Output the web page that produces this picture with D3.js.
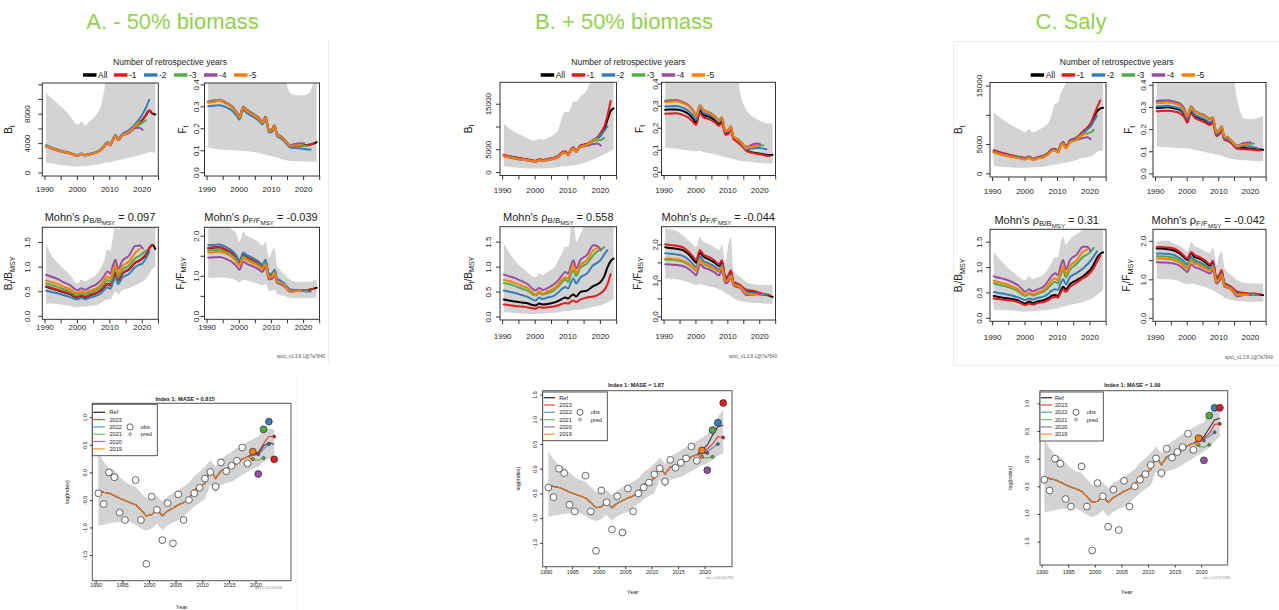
<!DOCTYPE html>
<html><head><meta charset="utf-8">
<script src="https://cdn.jsdelivr.net/npm/d3@7/dist/d3.min.js"></script>
<style>
html,body{margin:0;padding:0;background:#fff;}
svg{display:block;}
</style></head>
<body>
<svg id="chart" width="1279" height="610" xmlns="http://www.w3.org/2000/svg"></svg>
<script>
// ======================= DATA =======================
// Retrospective panels: common time grid
const retroGrid = [1990.5,1992,1994,1996,1998,1999.3,2000.2,2001.4,2002.5,2004,2006,2007.4,2008.3,2009.4,2010.3,2011.1,2011.9,2012.7,2014,2016,2018,2019.3,2020.3,2021.3,2022.3,2023.3,2024.2];
const retroNames = ["All","-1","-2","-3","-4","-5"];
const retroColors = ["#000000","#E41A1C","#377EB8","#4DAF4A","#984EA3","#FF7F00"];
const retroXTicks = [1990,1995,2000,2005,2010,2015,2020,2025];
const retroXLabels = [1990,2000,2010,2020];
const headers = ["A. - 50% biomass","B. + 50% biomass","C. Saly"];
const mohnB = ["0.097","0.558","0.31"];
const mohnF = ["-0.039","-0.044","-0.042"];
const maseValues = ["0.815","1.87","1.09"];

// ---- Column A: B_t
const A_Bt_All=[3600,3350,3050,2800,2600,2400,2300,2550,2350,2500,2750,3100,3500,4050,3750,4400,5000,4450,5100,5500,6300,6800,7200,7800,8400,8000,7900];
const A_Bt_M1=[3620,3370,3070,2820,2620,2420,2320,2570,2370,2520,2770,3120,3520,4080,3780,4430,5030,4480,5130,5530,6350,6850,7250,7850,8450,8050];
const A_Bt_M2=[3720,3460,3150,2880,2670,2450,2350,2600,2400,2560,2820,3180,3600,4150,3850,4500,5150,4600,5250,5750,6600,7300,8000,8800,9900];
const A_Bt_M3=[3560,3310,3010,2770,2580,2380,2280,2530,2330,2480,2730,3080,3480,4020,3720,4370,4970,4420,5060,5450,6100,6500,6800,7100];
const A_Bt_M4=[3520,3280,2990,2750,2560,2360,2260,2510,2310,2460,2710,3050,3450,3990,3690,4330,4920,4380,5000,5350,6050,6100,5800];
const A_Bt_M5=[3580,3330,3040,2790,2600,2390,2290,2540,2340,2490,2740,3090,3490,4040,3740,4390,4990,4440,5080,5480,6350,6900];
const A_Bt_Up=[10800,10200,9400,8600,7600,6800,6500,6900,6400,7000,7900,9000,10800,14000,16000,18000,20000,20000,20000,20000,20000,20000,20000,20000,20000,20000,20000];
const A_Bt_Lo=[1350,1250,1100,1000,900,820,800,870,850,950,1080,1200,1300,1400,1400,1500,1650,1650,1800,2000,2200,2350,2500,2600,2750,2750,2550];
// ---- Column A: F_t
const A_F_All=[0.318,0.322,0.326,0.315,0.296,0.272,0.252,0.296,0.282,0.268,0.248,0.228,0.25,0.19,0.192,0.212,0.172,0.165,0.15,0.12,0.12,0.122,0.124,0.124,0.126,0.13,0.137];
const A_F_M1=[0.319,0.323,0.327,0.316,0.297,0.273,0.253,0.297,0.283,0.269,0.249,0.229,0.251,0.191,0.193,0.213,0.173,0.166,0.151,0.121,0.121,0.122,0.122,0.122,0.125,0.132];
const A_F_M2=[0.300,0.302,0.305,0.296,0.279,0.258,0.240,0.282,0.269,0.256,0.237,0.218,0.240,0.181,0.183,0.203,0.164,0.157,0.143,0.113,0.110,0.108,0.106,0.104,0.103];
const A_F_M3=[0.322,0.326,0.330,0.318,0.299,0.275,0.255,0.299,0.285,0.271,0.251,0.231,0.253,0.193,0.195,0.215,0.175,0.168,0.152,0.122,0.122,0.123,0.122,0.121];
const A_F_M4=[0.320,0.324,0.328,0.316,0.297,0.273,0.253,0.297,0.283,0.269,0.249,0.229,0.251,0.191,0.193,0.213,0.173,0.166,0.151,0.124,0.130,0.132,0.132];
const A_F_M5=[0.316,0.320,0.325,0.313,0.294,0.270,0.250,0.294,0.280,0.266,0.246,0.226,0.248,0.188,0.190,0.210,0.170,0.164,0.149,0.121,0.122,0.124];
const A_F_Up=[0.5,0.5,0.5,0.5,0.5,0.5,0.5,0.5,0.5,0.5,0.5,0.5,0.5,0.5,0.5,0.5,0.5,0.5,0.45,0.36,0.35,0.35,0.35,0.355,0.37,0.41,0.46];
const A_F_Lo=[0.111,0.108,0.104,0.101,0.1,0.099,0.098,0.098,0.096,0.093,0.088,0.083,0.08,0.075,0.073,0.07,0.066,0.063,0.057,0.051,0.05,0.05,0.049,0.049,0.048,0.048,0.048];
// ---- Column A: B_t/B_MSY
const A_BB_All=[0.59,0.56,0.52,0.48,0.44,0.39,0.375,0.41,0.38,0.42,0.46,0.52,0.58,0.65,0.62,0.75,0.87,0.72,0.86,0.94,1.08,1.12,1.17,1.24,1.37,1.44,1.36];
const A_BB_M1=[0.60,0.57,0.53,0.49,0.45,0.40,0.385,0.42,0.39,0.43,0.47,0.53,0.59,0.66,0.63,0.76,0.88,0.73,0.87,0.95,1.09,1.13,1.18,1.25,1.38,1.45];
const A_BB_M2=[0.51,0.49,0.46,0.42,0.38,0.345,0.335,0.37,0.34,0.37,0.41,0.46,0.52,0.58,0.55,0.67,0.78,0.65,0.78,0.85,0.99,1.04,1.07,1.17,1.30];
const A_BB_M3=[0.66,0.63,0.59,0.54,0.49,0.44,0.42,0.46,0.43,0.47,0.52,0.58,0.65,0.73,0.69,0.84,0.96,0.80,0.94,1.02,1.17,1.22,1.27,1.33];
const A_BB_M4=[0.83,0.80,0.75,0.68,0.62,0.55,0.52,0.56,0.53,0.58,0.64,0.72,0.80,0.90,0.86,1.02,1.14,0.95,1.12,1.22,1.42,1.43,1.37];
const A_BB_M5=[0.72,0.69,0.65,0.59,0.54,0.48,0.46,0.50,0.47,0.51,0.56,0.63,0.71,0.80,0.76,0.92,1.03,0.86,1.01,1.10,1.28,1.36];
const A_BB_Up=[1.46,1.25,1.08,0.95,0.82,0.70,0.66,0.74,0.70,0.76,0.84,0.98,1.10,1.35,1.32,1.60,1.85,1.75,1.90,2.0,2.0,2.0,2.0,2.0,2.0,2.0,2.0];
const A_BB_Lo=[0.25,0.25,0.24,0.22,0.2,0.18,0.17,0.19,0.18,0.2,0.22,0.26,0.3,0.34,0.33,0.42,0.5,0.44,0.52,0.56,0.62,0.66,0.7,0.76,0.85,0.95,1.0];
// ---- Column A: F_t/F_MSY
const A_FF_All=[1.69,1.70,1.71,1.65,1.56,1.44,1.32,1.52,1.46,1.40,1.32,1.23,1.35,1.01,1.01,1.11,0.90,0.86,0.80,0.64,0.63,0.63,0.63,0.64,0.66,0.68,0.70];
const A_FF_M1=[1.70,1.71,1.72,1.66,1.57,1.45,1.33,1.53,1.47,1.41,1.33,1.24,1.36,1.02,1.02,1.12,0.91,0.87,0.80,0.64,0.63,0.63,0.63,0.64,0.66,0.68];
const A_FF_M2=[1.77,1.77,1.78,1.72,1.62,1.50,1.38,1.58,1.52,1.46,1.37,1.28,1.40,1.05,1.05,1.15,0.93,0.89,0.82,0.66,0.64,0.63,0.62,0.61,0.61];
const A_FF_M3=[1.63,1.64,1.65,1.59,1.50,1.39,1.28,1.48,1.42,1.36,1.28,1.20,1.32,0.98,0.99,1.09,0.88,0.85,0.79,0.62,0.62,0.63,0.63,0.63];
const A_FF_M4=[1.45,1.46,1.47,1.42,1.34,1.24,1.15,1.35,1.30,1.25,1.17,1.10,1.22,0.91,0.92,1.02,0.82,0.80,0.75,0.60,0.63,0.64,0.64];
const A_FF_M5=[1.58,1.59,1.60,1.55,1.46,1.35,1.25,1.44,1.39,1.33,1.25,1.17,1.29,0.96,0.97,1.07,0.86,0.83,0.78,0.61,0.62,0.63];
const A_FF_Up=[2.15,2.25,2.3,2.25,2.15,2.05,1.85,2.1,2.0,1.95,1.85,1.75,1.85,1.45,1.6,1.7,1.25,1.15,1.05,0.9,0.85,0.85,0.85,0.85,0.86,0.88,0.9];
const A_FF_Lo=[0.95,0.95,0.96,0.95,0.92,0.88,0.83,0.9,0.88,0.85,0.8,0.76,0.8,0.62,0.62,0.66,0.55,0.52,0.5,0.45,0.44,0.44,0.44,0.44,0.44,0.45,0.46];

// ---- Column B: B_t
const B_Bt_All=[3700,3450,3150,2900,2700,2500,2400,2750,2600,2800,3100,3600,4250,4480,3900,4900,5370,4650,5750,6100,6870,7450,8100,9300,11400,13400,13950];
const B_Bt_M1=[3800,3550,3250,3000,2780,2580,2480,2820,2680,2880,3180,3680,4330,4560,3980,4980,5450,4730,5830,6200,7000,7700,8700,9900,12300,15600];
const B_Bt_M2=[3600,3350,3050,2820,2620,2430,2330,2670,2530,2720,3020,3500,4150,4380,3800,4800,5250,4550,5620,6000,7100,7600,8200,9000,10000];
const B_Bt_M3=[3500,3270,2980,2760,2560,2380,2280,2610,2470,2660,2960,3420,4050,4280,3720,4700,5150,4450,5500,5900,6850,6950,7050,7500];
const B_Bt_M4=[3450,3220,2940,2720,2530,2350,2250,2580,2440,2630,2920,3380,4000,4220,3680,4620,5050,4380,5400,5750,6150,6250,5800];
const B_Bt_M5=[3520,3290,3000,2770,2580,2400,2300,2630,2490,2680,2980,3450,4080,4300,3750,4730,5180,4480,5550,5950,7000,7250];
const B_Bt_Up=[10600,9700,8800,8000,7300,6900,6900,7300,7100,7500,8300,9500,12000,13200,13200,14200,15500,15500,16500,18000,21000,21000,21000,21000,21000,21000,21000];
const B_Bt_Lo=[1270,1150,1000,900,800,760,740,800,790,850,950,1100,1200,1270,1270,1400,1550,1550,1800,2200,2760,3200,3500,3900,4250,4650,5000];
// ---- Column B: F_t
const B_F_All=[0.281,0.282,0.283,0.276,0.26,0.24,0.222,0.278,0.258,0.251,0.235,0.217,0.229,0.174,0.178,0.194,0.153,0.145,0.128,0.098,0.087,0.084,0.082,0.08,0.077,0.076,0.077];
const B_F_M1=[0.263,0.264,0.265,0.258,0.243,0.225,0.212,0.266,0.247,0.24,0.225,0.209,0.221,0.168,0.172,0.188,0.148,0.14,0.124,0.095,0.085,0.082,0.079,0.076,0.073,0.072];
const B_F_M2=[0.296,0.297,0.298,0.29,0.274,0.254,0.238,0.287,0.268,0.26,0.244,0.225,0.237,0.18,0.184,0.2,0.158,0.15,0.133,0.103,0.106,0.108,0.108,0.105,0.102];
const B_F_M3=[0.322,0.324,0.326,0.317,0.3,0.278,0.255,0.302,0.282,0.272,0.255,0.235,0.247,0.186,0.19,0.206,0.161,0.153,0.14,0.11,0.116,0.118,0.118,0.12];
const B_F_M4=[0.32,0.322,0.324,0.315,0.298,0.276,0.254,0.3,0.281,0.271,0.254,0.234,0.246,0.185,0.189,0.205,0.16,0.152,0.139,0.112,0.125,0.128,0.125];
const B_F_M5=[0.316,0.318,0.32,0.312,0.295,0.273,0.253,0.299,0.28,0.27,0.252,0.232,0.245,0.184,0.188,0.204,0.159,0.151,0.138,0.108,0.113,0.116];
const B_F_Up=[0.5,0.5,0.5,0.5,0.5,0.5,0.5,0.5,0.5,0.5,0.5,0.5,0.5,0.5,0.5,0.5,0.5,0.5,0.36,0.28,0.25,0.24,0.23,0.225,0.22,0.22,0.22];
const B_F_Lo=[0.11,0.107,0.104,0.1,0.097,0.095,0.093,0.095,0.09,0.085,0.08,0.074,0.072,0.066,0.064,0.062,0.058,0.055,0.05,0.046,0.043,0.041,0.04,0.039,0.038,0.037,0.037];
// ---- Column B: B_t/B_MSY
const B_BB_All=[0.34,0.32,0.3,0.28,0.26,0.23,0.22,0.26,0.24,0.25,0.28,0.32,0.35,0.38,0.36,0.41,0.44,0.40,0.49,0.52,0.61,0.65,0.70,0.80,0.98,1.11,1.16];
const B_BB_M1=[0.24,0.23,0.21,0.2,0.18,0.165,0.155,0.19,0.175,0.185,0.2,0.23,0.25,0.27,0.26,0.3,0.32,0.29,0.34,0.38,0.4,0.43,0.47,0.53,0.64,0.85];
const B_BB_M2=[0.52,0.5,0.47,0.43,0.39,0.34,0.32,0.38,0.35,0.38,0.42,0.49,0.55,0.59,0.56,0.68,0.76,0.66,0.78,0.86,1.03,1.08,1.14,1.24,1.33];
const B_BB_M3=[0.67,0.65,0.61,0.56,0.51,0.45,0.42,0.47,0.44,0.47,0.53,0.61,0.68,0.74,0.69,0.84,0.93,0.81,0.98,1.06,1.23,1.31,1.34,1.39];
const B_BB_M4=[0.84,0.81,0.77,0.71,0.64,0.56,0.52,0.57,0.53,0.57,0.65,0.74,0.82,0.89,0.86,1.02,1.13,0.96,1.13,1.23,1.43,1.41,1.33];
const B_BB_M5=[0.73,0.71,0.67,0.62,0.56,0.48,0.44,0.5,0.46,0.5,0.57,0.66,0.74,0.78,0.76,0.93,1.03,0.87,1.03,1.13,1.33,1.37];
const B_BB_Up=[1.47,1.3,1.12,0.98,0.87,0.8,0.78,0.86,0.83,0.9,0.98,1.15,1.26,1.4,1.4,1.75,1.95,1.5,1.65,1.95,2.0,2.0,2.0,2.0,2.0,2.0,2.0];
const B_BB_Lo=[0.09,0.08,0.07,0.06,0.055,0.05,0.05,0.06,0.06,0.065,0.075,0.09,0.1,0.11,0.11,0.12,0.13,0.13,0.14,0.16,0.19,0.21,0.22,0.25,0.28,0.32,0.36];
// ---- Column B: F_t/F_MSY
const B_FF_All=[1.92,1.9,1.88,1.84,1.71,1.58,1.49,1.77,1.66,1.59,1.49,1.40,1.52,1.05,1.12,1.24,0.93,0.91,0.85,0.73,0.68,0.66,0.63,0.61,0.59,0.57,0.54];
const B_FF_M1=[2.0,1.98,1.96,1.92,1.78,1.65,1.56,1.84,1.72,1.66,1.55,1.45,1.56,1.08,1.15,1.28,0.96,0.93,0.87,0.74,0.71,0.68,0.65,0.63,0.61,0.59];
const B_FF_M2=[1.75,1.74,1.72,1.68,1.56,1.44,1.36,1.66,1.54,1.48,1.38,1.30,1.42,1.0,1.06,1.17,0.9,0.88,0.83,0.68,0.65,0.63,0.61,0.6,0.6];
const B_FF_M3=[1.57,1.57,1.56,1.52,1.42,1.33,1.27,1.56,1.45,1.40,1.31,1.24,1.36,0.96,1.01,1.12,0.88,0.85,0.81,0.62,0.61,0.62,0.61,0.61];
const B_FF_M4=[1.45,1.44,1.43,1.40,1.31,1.21,1.14,1.45,1.36,1.31,1.22,1.14,1.28,0.91,0.96,1.08,0.86,0.82,0.79,0.59,0.61,0.62,0.62];
const B_FF_M5=[1.61,1.6,1.59,1.55,1.45,1.35,1.28,1.57,1.46,1.41,1.32,1.25,1.37,0.97,1.02,1.13,0.89,0.86,0.82,0.63,0.61,0.61];
const B_FF_Up=[2.45,2.42,2.38,2.25,2.1,1.98,1.93,2.21,2.07,2.02,1.92,1.84,1.98,1.47,2.0,2.2,1.28,1.18,1.1,0.95,0.9,0.88,0.87,0.87,0.87,0.87,0.87];
const B_FF_Lo=[1.05,1.04,1.03,1.0,0.94,0.9,0.87,0.9,0.87,0.84,0.8,0.74,0.72,0.65,0.6,0.56,0.5,0.47,0.43,0.4,0.38,0.37,0.37,0.36,0.36,0.35,0.35];

// ---- Column C: B_t
const C_Bt_All=[3800,3550,3250,3000,2800,2650,2590,2820,2450,2700,3000,3500,4020,4140,3740,4800,5290,4500,5570,6030,7010,7700,8300,9500,10600,11050,11200];
const C_Bt_M1=[3950,3700,3380,3100,2880,2720,2650,2880,2500,2750,3060,3560,4080,4200,3800,4860,5350,4560,5640,6100,7200,7800,8500,9800,11200,12450];
const C_Bt_M2=[3750,3500,3200,2960,2760,2610,2550,2780,2410,2660,2950,3450,3960,4080,3690,4740,5220,4440,5500,5950,6900,7500,8000,8900,9900];
const C_Bt_M3=[3650,3400,3120,2880,2690,2540,2480,2710,2350,2600,2880,3380,3880,4000,3620,4660,5130,4360,5400,5830,6700,6850,6950,7450];
const C_Bt_M4=[3600,3360,3080,2840,2650,2500,2440,2670,2310,2560,2840,3330,3830,3940,3570,4600,5060,4300,5320,5700,6050,6150,5850];
const C_Bt_M5=[3560,3320,3040,2800,2620,2420,2330,2640,2280,2530,2820,3300,3800,3920,3550,4580,5040,4280,5300,5700,6600,6750];
const C_Bt_Up=[10460,9700,8900,8200,7600,7250,7010,7590,7010,7300,8000,8700,9900,11900,12000,13600,14600,15200,17000,17000,17000,17000,17000,17000,17000,17000,17000];
const C_Bt_Lo=[1260,1180,1080,1020,980,960,950,1000,1000,1080,1150,1300,1400,1500,1550,1650,1750,1800,2000,2300,2650,2800,2900,3200,3600,3800,3970];
// ---- Column C: F_t
const C_F_All=[0.295,0.296,0.298,0.294,0.285,0.265,0.241,0.28,0.261,0.25,0.238,0.226,0.236,0.174,0.182,0.2,0.156,0.153,0.142,0.115,0.115,0.113,0.112,0.111,0.109,0.108,0.107];
const C_F_M1=[0.28,0.282,0.283,0.279,0.27,0.252,0.229,0.27,0.251,0.24,0.228,0.218,0.229,0.168,0.176,0.194,0.151,0.148,0.137,0.111,0.109,0.108,0.108,0.106,0.105,0.104];
const C_F_M2=[0.302,0.303,0.305,0.3,0.291,0.27,0.246,0.285,0.266,0.255,0.243,0.23,0.24,0.177,0.185,0.203,0.158,0.155,0.144,0.118,0.124,0.124,0.122,0.118,0.115];
const C_F_M3=[0.328,0.329,0.33,0.325,0.315,0.292,0.262,0.303,0.284,0.272,0.26,0.247,0.253,0.188,0.196,0.214,0.166,0.166,0.151,0.126,0.131,0.134,0.134,0.135];
const C_F_M4=[0.326,0.327,0.328,0.323,0.313,0.29,0.26,0.301,0.282,0.27,0.258,0.245,0.252,0.187,0.195,0.213,0.165,0.165,0.15,0.125,0.137,0.139,0.139];
const C_F_M5=[0.317,0.318,0.32,0.315,0.306,0.283,0.258,0.299,0.28,0.268,0.256,0.244,0.251,0.185,0.194,0.212,0.164,0.164,0.149,0.124,0.13,0.131];
const C_F_Up=[0.5,0.5,0.5,0.5,0.5,0.5,0.5,0.5,0.5,0.5,0.5,0.5,0.5,0.5,0.5,0.5,0.5,0.5,0.5,0.33,0.25,0.245,0.244,0.246,0.25,0.255,0.258];
const C_F_Lo=[0.12,0.119,0.118,0.116,0.114,0.113,0.112,0.11,0.106,0.102,0.096,0.091,0.088,0.085,0.083,0.079,0.075,0.072,0.066,0.062,0.059,0.058,0.057,0.056,0.055,0.055,0.054];
// ---- Column C: B_t/B_MSY
const C_BB_All=[0.43,0.41,0.39,0.37,0.34,0.3,0.28,0.32,0.29,0.32,0.35,0.39,0.43,0.45,0.43,0.53,0.61,0.56,0.66,0.74,0.82,0.89,0.95,1.05,1.18,1.26,1.29];
const C_BB_M1=[0.38,0.37,0.35,0.34,0.31,0.27,0.25,0.28,0.26,0.29,0.31,0.35,0.39,0.41,0.40,0.49,0.56,0.51,0.61,0.69,0.78,0.83,0.89,0.98,1.1,1.22];
const C_BB_M2=[0.51,0.49,0.47,0.44,0.4,0.37,0.35,0.38,0.36,0.39,0.42,0.48,0.53,0.56,0.55,0.68,0.76,0.66,0.80,0.88,0.97,1.05,1.12,1.21,1.31];
const C_BB_M3=[0.68,0.65,0.62,0.58,0.52,0.46,0.43,0.47,0.44,0.47,0.52,0.6,0.66,0.71,0.68,0.84,0.94,0.80,0.95,1.06,1.20,1.25,1.30,1.38];
const C_BB_M4=[0.82,0.79,0.76,0.71,0.64,0.56,0.51,0.56,0.52,0.56,0.62,0.74,0.82,0.88,0.84,1.02,1.14,0.95,1.14,1.24,1.40,1.40,1.32];
const C_BB_M5=[0.73,0.7,0.67,0.62,0.56,0.49,0.45,0.49,0.46,0.5,0.55,0.66,0.73,0.78,0.74,0.91,1.02,0.86,1.02,1.13,1.30,1.35];
const C_BB_Up=[1.3,1.18,1.04,0.92,0.82,0.76,0.74,0.82,0.76,0.8,0.86,0.98,1.08,1.2,1.2,1.47,1.6,1.45,1.55,1.65,1.75,1.9,1.9,1.9,1.9,1.9,1.9];
const C_BB_Lo=[0.16,0.155,0.15,0.145,0.135,0.125,0.12,0.13,0.13,0.14,0.15,0.16,0.17,0.18,0.18,0.2,0.22,0.23,0.25,0.28,0.31,0.34,0.36,0.4,0.45,0.5,0.55];
// ---- Column C: F_t/F_MSY
const C_FF_All=[1.8,1.8,1.78,1.75,1.66,1.56,1.5,1.67,1.58,1.54,1.44,1.36,1.45,1.02,1.09,1.19,0.89,0.86,0.79,0.66,0.63,0.62,0.61,0.61,0.61,0.6,0.59];
const C_FF_M1=[1.84,1.84,1.83,1.8,1.7,1.6,1.54,1.71,1.63,1.58,1.48,1.39,1.48,1.05,1.12,1.24,0.91,0.87,0.81,0.68,0.65,0.64,0.63,0.63,0.62,0.61];
const C_FF_M2=[1.67,1.67,1.66,1.63,1.54,1.45,1.39,1.58,1.5,1.45,1.36,1.29,1.38,0.98,1.04,1.15,0.86,0.83,0.77,0.63,0.62,0.61,0.61,0.6,0.6];
const C_FF_M3=[1.6,1.6,1.59,1.56,1.48,1.38,1.32,1.52,1.45,1.4,1.31,1.25,1.34,0.96,1.02,1.13,0.85,0.82,0.76,0.61,0.6,0.6,0.6,0.6];
const C_FF_M4=[1.45,1.44,1.43,1.41,1.34,1.25,1.19,1.39,1.32,1.28,1.2,1.15,1.24,0.89,0.95,1.05,0.81,0.79,0.74,0.56,0.59,0.6,0.6];
const C_FF_M5=[1.54,1.54,1.53,1.5,1.42,1.33,1.28,1.48,1.41,1.36,1.28,1.22,1.31,0.94,1.0,1.11,0.84,0.81,0.75,0.59,0.59,0.6];
const C_FF_Up=[1.97,2.0,2.0,1.93,1.85,1.78,1.71,1.97,1.86,1.82,1.72,1.69,1.84,1.37,1.63,1.71,1.32,1.2,1.12,0.98,0.91,0.9,0.89,0.89,0.89,0.89,0.89];
const C_FF_Lo=[1.02,1.01,1.0,0.99,0.94,0.9,0.87,0.89,0.87,0.84,0.8,0.74,0.72,0.66,0.62,0.58,0.53,0.5,0.47,0.44,0.43,0.42,0.42,0.42,0.42,0.42,0.42];

// ---- Hindcast (index 1) panels
const hcT=[1990.5,1991.5,1992.5,1993.5,1994.5,1995.5,1996.5,1997.5,1998.5,1999.5,2000.5,2001.5,2002.5,2003.5,2004.5,2005.5,2006.5,2007.5,2008.5,2009.5,2010.5,2011.5,2012.5,2013.5,2014.5,2015.5,2016.5,2017.5,2018.5,2019.5,2020.5,2021.5,2022.5,2023.5];
const obsT=[1990.5,1991.5,1992.5,1993.5,1994.5,1995.5,1997.5,1998.5,1999.5,2000.5,2001.5,2002.5,2003.5,2004.5,2005.5,2006.5,2007.5,2008.5,2009.5,2010.5,2011.5,2012.5,2013.5,2014.5,2015.5,2016.5,2017.5,2018.5];
const obsV=[-0.38,-0.575,0.0,-0.09,-0.73,-0.865,-0.14,-0.865,-1.66,-0.44,-0.68,-1.23,-0.56,-1.29,-0.40,-0.865,-0.50,-0.38,-0.28,-0.115,0.006,-0.26,0.18,0.02,0.12,0.21,0.45,0.16];
const peelT=[2019.5,2020.5,2021.5,2022.5,2023.5];
const peelNames=["2019","2020","2021","2022","2023"];
const peelColors=["#FF7F00","#984EA3","#4DAF4A","#377EB8","#E41A1C"];
const refEarly=[-0.33,-0.36,-0.38,-0.42,-0.47,-0.51,-0.55,-0.59,-0.68,-0.79,-0.77,-0.67,-0.79,-0.70,-0.65,-0.59,-0.55,-0.47,-0.32,-0.26,-0.20,0.05,-0.11,0.03,0.07,0.10,0.16,0.24,0.28];
const bandUpEarly=[0.345,0.19,0.07,0.04,-0.08,-0.17,-0.23,-0.26,-0.37,-0.47,-0.50,-0.43,-0.53,-0.44,-0.38,-0.32,-0.26,-0.19,-0.07,0.01,0.10,0.22,0.10,0.24,0.31,0.375,0.44,0.50,0.56];
const bandLoEarly=[-0.97,-0.95,-0.93,-0.91,-0.9,-0.9,-0.9,-0.95,-1.02,-1.06,-1.02,-0.93,-1.05,-0.96,-0.91,-0.87,-0.8,-0.71,-0.62,-0.55,-0.49,-0.23,-0.38,-0.23,-0.2,-0.17,-0.11,-0.05,0.01];
const A_hcObs=[0.375,-0.03,0.78,0.92,0.236], B_hcObs=[0.37,-0.03,0.78,0.93,1.33], C_hcObs=[0.37,-0.03,0.78,0.92,0.92];
const A_hcPred=[0.24,0.33,0.26,0.51,0.65], B_hcPred=[0.24,0.32,0.24,0.50,0.63], C_hcPred=[0.25,0.33,0.25,0.48,0.63];
const A_refTail=[0.34,0.34,0.48,0.54,0.51], B_refTail=[0.38,0.48,0.68,0.85,0.88], C_refTail=[0.34,0.40,0.55,0.70,0.73];
const A_upTail=[0.60,0.65,0.77,0.80,0.78], B_upTail=[0.62,0.70,0.87,1.05,1.19], C_upTail=[0.62,0.66,0.82,0.94,1.0];
const A_loTail=[0.07,0.10,0.19,0.25,0.24], B_loTail=[0.07,0.11,0.18,0.26,0.31], C_loTail=[0.07,0.13,0.2,0.31,0.40];
// peel tails (2019 .. 2023 hindcast lines, values from 2019.5 on)
const A_p2019=[0.24], A_p2020=[0.30,0.33], A_p2021=[0.22,0.22,0.26], A_p2022=[0.33,0.32,0.42,0.51], A_p2023=[0.34,0.36,0.52,0.65,0.65];
const B_p2019=[0.24], B_p2020=[0.30,0.32], B_p2021=[0.22,0.22,0.24], B_p2022=[0.33,0.35,0.42,0.50], B_p2023=[0.36,0.40,0.50,0.65,0.63];
const C_p2019=[0.25], C_p2020=[0.30,0.33], C_p2021=[0.22,0.21,0.25], C_p2022=[0.33,0.36,0.40,0.48], C_p2023=[0.33,0.38,0.45,0.62,0.63];
const hcXTicks=[1990,1995,2000,2005,2010,2015,2020];

// ======================= RENDERING =======================
const svg = d3.select("#chart");
const FONT = "'Liberation Sans', Arial, Helvetica, sans-serif";
const INK = "#222";
const retroXDomain = [1989.35, 2025.1];
let clipCount = 0;
function makeClip(x0,y0,x1,y1){
  const id = "cp"+(clipCount++);
  svg.append("clipPath").attr("id",id).append("rect").attr("x",x0).attr("y",y0).attr("width",x1-x0).attr("height",y1-y0);
  return `url(#${id})`;
}
function richText(el, parts, fs){
  const off=[0,0.28*fs,0.46*fs], size=[fs,0.72*fs,0.56*fs];
  let prev=0;
  parts.forEach(([t,l])=>{ el.append("tspan").attr("dy",off[l]-off[prev]).attr("font-size",size[l]).text(t); prev=l; });
}
function styleAxis(a, fs){
  a.attr("font-family",FONT).attr("font-size",fs);
  a.select(".domain").remove();
  a.selectAll("line").attr("stroke","#333");
  a.selectAll("text").attr("fill",INK);
}
const f1 = d=>d.toFixed(1);
const fint = d=>String(d);

function retroPanel(p){
  const x = d3.scaleLinear().domain(retroXDomain).range([p.x0,p.x1]);
  const y = d3.scaleLinear().domain(p.ydom).range([p.y1,p.y0]);
  const g = svg.append("g");
  const inner = g.append("g").attr("clip-path", makeClip(p.x0,p.y0,p.x1,p.y1));
  const area = d3.area().x((d,i)=>x(retroGrid[i])).y0(d=>y(d[0])).y1(d=>y(d[1])).curve(d3.curveMonotoneX);
  inner.append("path").attr("d", area(p.lo.map((v,i)=>[v,p.up[i]]))).attr("fill","#d3d3d3");
  const line = d3.line().x((d,i)=>x(retroGrid[i])).y(d=>y(d)).curve(d3.curveMonotoneX);
  p.series.forEach((s,k)=>{
    inner.append("path").attr("d",line(s)).attr("fill","none").attr("stroke",retroColors[k])
      .attr("stroke-width",2).attr("stroke-linejoin","round").attr("stroke-linecap","round");
  });
  g.append("rect").attr("x",p.x0).attr("y",p.y0).attr("width",p.x1-p.x0).attr("height",p.y1-p.y0)
    .attr("fill","none").attr("stroke","#333").attr("stroke-width",1);
  const xa = g.append("g").attr("transform",`translate(0,${p.y1})`)
    .call(d3.axisBottom(x).tickValues(retroXTicks).tickSize(4).tickSizeOuter(0).tickFormat(d=>retroXLabels.includes(d)?String(d):""));
  styleAxis(xa, 8);
  xa.selectAll("text").attr("y", p.xlabY-p.y1).attr("dy","0.35em");
  const ya = g.append("g").attr("transform",`translate(${p.x0},0)`)
    .call(d3.axisLeft(y).tickValues(p.yticks).tickSize(4).tickSizeOuter(0).tickFormat(d=>p.ylabels.includes(d)?p.fmt(d):""));
  styleAxis(ya, 8);
  ya.selectAll("text").attr("x",0).attr("dy",null).attr("y",-p.tickOff).attr("transform","rotate(-90)")
    .attr("text-anchor","middle").attr("dominant-baseline","central");
  const t = g.append("text").attr("transform",`translate(${p.x0-p.titleOff},${(p.y0+p.y1)/2}) rotate(-90)`)
    .attr("text-anchor","middle").attr("font-family",FONT).attr("fill",INK).attr("font-size",10);
  richText(t, p.ylab, 10);
}

function hindcastPanel(p){
  const x = d3.scaleLinear().domain(p.xdom).range([p.x0,p.x1]);
  const y = d3.scaleLinear().domain(p.ydom).range([p.y1,p.y0]);
  const g = svg.append("g");
  const inner = g.append("g").attr("clip-path", makeClip(p.x0,p.y0,p.x1,p.y1));
  const lo = bandLoEarly.concat(p.loTail), up = bandUpEarly.concat(p.upTail);
  const area = d3.area().x((d,i)=>x(hcT[i])).y0(d=>y(d[0])).y1(d=>y(d[1]));
  inner.append("path").attr("d", area(lo.map((v,i)=>[v,up[i]]))).attr("fill","#d3d3d3");
  const line = d3.line().x((d,i)=>x(hcT[i])).y(d=>y(d));
  inner.append("path").attr("d", line(refEarly.concat(p.refTail))).attr("fill","none").attr("stroke","#333").attr("stroke-width",1.1);
  for (let k=4;k>=0;k--){
    inner.append("path").attr("d", line(refEarly.concat(p.peels[k]))).attr("fill","none")
      .attr("stroke",peelColors[k]).attr("stroke-width",1.1).attr("stroke-opacity",0.85);
  }
  g.selectAll(null).data(obsV).enter().append("circle")
    .attr("cx",(d,i)=>x(obsT[i])).attr("cy",d=>y(d)).attr("r",3.4)
    .attr("fill","#fff").attr("stroke","#555").attr("stroke-width",0.9);
  g.selectAll(null).data(p.obs).enter().append("circle")
    .attr("cx",(d,i)=>x(peelT[i])).attr("cy",d=>y(d)).attr("r",3.4)
    .attr("fill",(d,i)=>peelColors[i]).attr("stroke","#333").attr("stroke-width",0.8);
  g.selectAll(null).data(p.pred).enter().append("circle")
    .attr("cx",(d,i)=>x(peelT[i])).attr("cy",d=>y(d)).attr("r",1.5)
    .attr("fill",(d,i)=>peelColors[i]).attr("stroke","#333").attr("stroke-width",0.6);
  g.append("rect").attr("x",p.x0).attr("y",p.y0).attr("width",p.x1-p.x0).attr("height",p.y1-p.y0)
    .attr("fill","none").attr("stroke","#555").attr("stroke-width",1);
  const xa = g.append("g").attr("transform",`translate(0,${p.y1})`)
    .call(d3.axisBottom(x).tickValues(hcXTicks).tickSize(2.5).tickSizeOuter(0).tickFormat(d=>String(d)));
  styleAxis(xa, 5.4);
  xa.selectAll("text").attr("y", p.xlabY-p.y1).attr("dy","0.35em");
  const ya = g.append("g").attr("transform",`translate(${p.x0},0)`)
    .call(d3.axisLeft(y).tickValues(p.yticks).tickSize(2.5).tickSizeOuter(0).tickFormat(f1));
  styleAxis(ya, 5.4);
  ya.selectAll("text").attr("x",0).attr("dy",null).attr("y",-p.tickOff).attr("transform","rotate(-90)")
    .attr("text-anchor","middle").attr("dominant-baseline","central");
  g.append("text").attr("x",p.titleX).attr("y",p.titleY).attr("text-anchor","middle").attr("dominant-baseline","central")
    .attr("font-family",FONT).attr("font-weight","bold").attr("font-size",5.6).attr("fill",INK).text(p.title);
  g.append("text").attr("x",p.yearX).attr("y",p.yearY).attr("text-anchor","middle").attr("dominant-baseline","central")
    .attr("font-family",FONT).attr("font-size",5.8).attr("fill",INK).text("Year");
  g.append("text").attr("transform",`translate(${p.ylabX},${(p.y0+p.y1)/2}) rotate(-90)`).attr("text-anchor","middle")
    .attr("dominant-baseline","central").attr("font-family",FONT).attr("font-size",5.4).attr("fill",INK).text("log(index)");
  g.append("text").attr("x",p.markX).attr("y",p.markY).attr("font-family",FONT).attr("font-size",2.6).attr("fill","#777").text("spict_v1.3.8.1@7a7840");
  // legend
  const L = p.leg;
  g.append("rect").attr("x",L.x0).attr("y",L.y0).attr("width",L.x1-L.x0).attr("height",L.y1-L.y0)
    .attr("fill","#fff").attr("stroke","#444").attr("stroke-width",0.9);
  const legNames=["Ref","2023","2022","2021","2020","2019"];
  const legColors=["#333","#E41A1C","#377EB8","#4DAF4A","#984EA3","#FF7F00"];
  legNames.forEach((nm,i)=>{
    const yy = L.row0 + i*L.step;
    g.append("line").attr("x1",L.sw0).attr("x2",L.sw1).attr("y1",yy).attr("y2",yy)
      .attr("stroke",legColors[i]).attr("stroke-width",1.3).attr("stroke-opacity",i===0?1:0.75);
    g.append("text").attr("x",L.tx).attr("y",yy).attr("dominant-baseline","central")
      .attr("font-family",FONT).attr("font-size",5.6).attr("fill",INK).text(nm);
  });
  const yObs = L.row0 + 2*L.step, yPred = L.row0 + 3*L.step;
  g.append("circle").attr("cx",L.ox).attr("cy",yObs).attr("r",3.1).attr("fill","#fff").attr("stroke","#555").attr("stroke-width",0.9);
  g.append("circle").attr("cx",L.ox).attr("cy",yPred).attr("r",1.4).attr("fill","#fff").attr("stroke","#555").attr("stroke-width",0.7);
  g.append("text").attr("x",L.otx).attr("y",yObs).attr("dominant-baseline","central").attr("font-family",FONT).attr("font-size",5.6).attr("fill",INK).text("obs");
  g.append("text").attr("x",L.otx).attr("y",yPred).attr("dominant-baseline","central").attr("font-family",FONT).attr("font-size",5.6).attr("fill",INK).text("pred");
}

// faint screenshot borders
svg.append("line").attr("x1",328.5).attr("x2",328.5).attr("y1",40).attr("y2",363).attr("stroke","#ececec");
svg.append("line").attr("x1",297).attr("x2",297).attr("y1",375).attr("y2",610).attr("stroke","#efefef");
svg.append("rect").attr("x",953.5).attr("y",41.5).attr("width",340).attr("height",324).attr("fill","none").attr("stroke","#ececec");

// ---- column layout
const layout = [
 {hx:172.5, lgX:170, sw:[83,114,144,174,204,234], L:[42.3,158.3], R:[204.5,319.5], top:[83,176], bot:[227.3,319.3],
  xlTop:189, xlBot:327, mohnY:217, mohnX:[100,261], foot:[325,358], off:[15,30,8.5,19]},
 {hx:624, lgX:628.3, sw:[540.7,571.7,601.7,631.7,661.7,691.7], L:[500,616.5], R:[661.5,775.5], top:[82.3,175.5], bot:[226.7,320],
  xlTop:190.5, xlBot:336, mohnY:217, mohnX:[558.3,718.3], foot:[777,358], off:[12,28.5,6.5,19]},
 {hx:1071, lgX:1116.7, sw:[1030.7,1061.7,1091.7,1121.7,1151.7,1181.7], L:[990,1106], R:[1153,1266], top:[82.5,177], bot:[229.3,321.3],
  xlTop:191, xlBot:337, mohnY:219.5, mohnX:[1046.7,1208.3], foot:[1273,359], off:[10.5,28,10,21]}
];
const colData = [
 {Bt:[A_Bt_All,A_Bt_M1,A_Bt_M2,A_Bt_M3,A_Bt_M4,A_Bt_M5], BtB:[A_Bt_Lo,A_Bt_Up],
  F:[A_F_All,A_F_M1,A_F_M2,A_F_M3,A_F_M4,A_F_M5], FB:[A_F_Lo,A_F_Up],
  BB:[A_BB_All,A_BB_M1,A_BB_M2,A_BB_M3,A_BB_M4,A_BB_M5], BBB:[A_BB_Lo,A_BB_Up],
  FF:[A_FF_All,A_FF_M1,A_FF_M2,A_FF_M3,A_FF_M4,A_FF_M5], FFB:[A_FF_Lo,A_FF_Up],
  btDom:[-470,12170], btTicks:[0,2000,4000,6000,8000,10000,12000], btLabels:[0,4000,8000],
  fDom:[-0.017,0.406], bbDom:[-0.07,1.80], ffDom:[-0.085,2.21]},
 {Bt:[B_Bt_All,B_Bt_M1,B_Bt_M2,B_Bt_M3,B_Bt_M4,B_Bt_M5], BtB:[B_Bt_Lo,B_Bt_Up],
  F:[B_F_All,B_F_M1,B_F_M2,B_F_M3,B_F_M4,B_F_M5], FB:[B_F_Lo,B_F_Up],
  BB:[B_BB_All,B_BB_M1,B_BB_M2,B_BB_M3,B_BB_M4,B_BB_M5], BBB:[B_BB_Lo,B_BB_Up],
  FF:[B_FF_All,B_FF_M1,B_FF_M2,B_FF_M3,B_FF_M4,B_FF_M5], FFB:[B_FF_Lo,B_FF_Up],
  btDom:[-760,19710], btTicks:[0,5000,10000,15000], btLabels:[0,5000,15000],
  fDom:[-0.017,0.406], bbDom:[-0.07,1.80], ffDom:[-0.1,2.49]},
 {Bt:[C_Bt_All,C_Bt_M1,C_Bt_M2,C_Bt_M3,C_Bt_M4,C_Bt_M5], BtB:[C_Bt_Lo,C_Bt_Up],
  F:[C_F_All,C_F_M1,C_F_M2,C_F_M3,C_F_M4,C_F_M5], FB:[C_F_Lo,C_F_Up],
  BB:[C_BB_All,C_BB_M1,C_BB_M2,C_BB_M3,C_BB_M4,C_BB_M5], BBB:[C_BB_Lo,C_BB_Up],
  FF:[C_FF_All,C_FF_M1,C_FF_M2,C_FF_M3,C_FF_M4,C_FF_M5], FFB:[C_FF_Lo,C_FF_Up],
  btDom:[-620,15520], btTicks:[0,5000,10000,15000], btLabels:[0,5000,15000],
  fDom:[-0.016,0.41], bbDom:[-0.07,1.745], ffDom:[-0.09,2.30]}
];

layout.forEach((c,ci)=>{
  const d = colData[ci];
  // header
  svg.append("text").attr("x",c.hx).attr("y",29).attr("text-anchor","middle").attr("font-family",FONT)
    .attr("font-size",22).attr("fill","#92D050").text(headers[ci]);
  // retro legend
  svg.append("text").attr("x",c.lgX).attr("y",62).attr("text-anchor","middle").attr("dominant-baseline","central")
    .attr("font-family",FONT).attr("font-size",8.5).attr("fill",INK).text("Number of retrospective years");
  retroNames.forEach((nm,k)=>{
    svg.append("line").attr("x1",c.sw[k]).attr("x2",c.sw[k]+13.5).attr("y1",75).attr("y2",75)
      .attr("stroke",retroColors[k]).attr("stroke-width",3.5);
    svg.append("text").attr("x",c.sw[k]+15).attr("y",75).attr("dominant-baseline","central")
      .attr("font-family",FONT).attr("font-size",8.5).attr("fill",INK).text(nm);
  });
  retroPanel({x0:c.L[0],x1:c.L[1],y0:c.top[0],y1:c.top[1],ydom:d.btDom,yticks:d.btTicks,ylabels:d.btLabels,fmt:fint,
    series:d.Bt,lo:d.BtB[0],up:d.BtB[1],xlabY:c.xlTop,tickOff:c.off[0],titleOff:c.off[1],ylab:[["B",0],["t",1]]});
  retroPanel({x0:c.R[0],x1:c.R[1],y0:c.top[0],y1:c.top[1],ydom:d.fDom,yticks:[0,0.1,0.2,0.3,0.4],ylabels:[0,0.1,0.2,0.3,0.4],fmt:f1,
    series:d.F,lo:d.FB[0],up:d.FB[1],xlabY:c.xlTop,tickOff:c.off[2],titleOff:c.off[3],ylab:[["F",0],["t",1]]});
  retroPanel({x0:c.L[0],x1:c.L[1],y0:c.bot[0],y1:c.bot[1],ydom:d.bbDom,yticks:[0,0.5,1,1.5],ylabels:[0,0.5,1,1.5],fmt:f1,
    series:d.BB,lo:d.BBB[0],up:d.BBB[1],xlabY:c.xlBot,tickOff:c.off[0],titleOff:c.off[1],ylab:[["B",0],["t",1],["/B",0],["MSY",1]]});
  retroPanel({x0:c.R[0],x1:c.R[1],y0:c.bot[0],y1:c.bot[1],ydom:d.ffDom,yticks:[0,0.5,1,1.5,2],ylabels:[0,1,2],fmt:f1,
    series:d.FF,lo:d.FFB[0],up:d.FFB[1],xlabY:c.xlBot,tickOff:c.off[2],titleOff:c.off[3]+2,ylab:[["F",0],["t",1],["/F",0],["MSY",1]]});
  // Mohn's rho titles
  [[mohnB[ci],"B/B"],[mohnF[ci],"F/F"]].forEach(([val,sub],j)=>{
    const t = svg.append("text").attr("x",c.mohnX[j]).attr("y",c.mohnY).attr("text-anchor","middle")
      .attr("dominant-baseline","central").attr("font-family",FONT).attr("fill",INK).attr("font-size",11);
    richText(t, [["Mohn's ρ",0],[sub,1],["MSY",2],[" = "+val,0]], 11);
  });
  svg.append("text").attr("x",c.foot[0]).attr("y",c.foot[1]).attr("text-anchor","end").attr("font-family",FONT)
    .attr("font-size",4.6).attr("fill","#555").text("spict_v1.3.8.1@7a7840");
});

// ---- hindcast panels
const hcLayout = [
 {x0:92.3,x1:291,y0:403.3,y1:580.7,xdom:[1989.37,2026.65],ydom:[-1.966,1.252],yticks:[-1.5,-1,-0.5,0,0.5,1],
  titleX:185,titleY:398.5,tickOff:7.3,ylabX:66.7,xlabY:585,yearX:181.7,yearY:606.5,markX:255,markY:589,
  leg:{x0:92.3,y0:404.3,x1:157.3,y1:455.7,row0:412.3,step:7.3,sw0:93.3,sw1:105,tx:109.5,ox:130,otx:140.7}},
 {x0:542.7,x1:732,y0:390.7,y1:566.7,xdom:[1989.44,2025.16],ydom:[-1.982,1.578],yticks:[-1.5,-1,-0.5,0,0.5,1,1.5],
  titleX:636,titleY:385,tickOff:7.7,ylabX:518,xlabY:572,yearX:632.7,yearY:591.7,markX:706,markY:578.5,
  leg:{x0:542.7,y0:392,x1:607.3,y1:440.7,row0:397.7,step:7.3,sw0:543.8,sw1:555,tx:559.3,ox:580,otx:590.7}},
 {x0:1040,x1:1227.7,y0:390.7,y1:565,xdom:[1989.69,2024.97],ydom:[-1.922,1.229],yticks:[-1.5,-1,-0.5,0,0.5,1],
  titleX:1132.3,titleY:385,tickOff:13.3,ylabX:1010,xlabY:572,yearX:1126.7,yearY:591.7,markX:1203,markY:578.5,
  leg:{x0:1040,y0:392,x1:1103.3,y1:441,row0:397.7,step:7.3,sw0:1041,sw1:1052,tx:1055,ox:1076,otx:1086.7}}
];
const hcData = [
 {obs:A_hcObs,pred:A_hcPred,refTail:A_refTail,upTail:A_upTail,loTail:A_loTail,peels:[A_p2019,A_p2020,A_p2021,A_p2022,A_p2023]},
 {obs:B_hcObs,pred:B_hcPred,refTail:B_refTail,upTail:B_upTail,loTail:B_loTail,peels:[B_p2019,B_p2020,B_p2021,B_p2022,B_p2023]},
 {obs:C_hcObs,pred:C_hcPred,refTail:C_refTail,upTail:C_upTail,loTail:C_loTail,peels:[C_p2019,C_p2020,C_p2021,C_p2022,C_p2023]}
];
hcLayout.forEach((h,i)=>hindcastPanel(Object.assign({}, h, hcData[i], {title:"Index 1: MASE = "+maseValues[i]})));
</script>
</body></html>
